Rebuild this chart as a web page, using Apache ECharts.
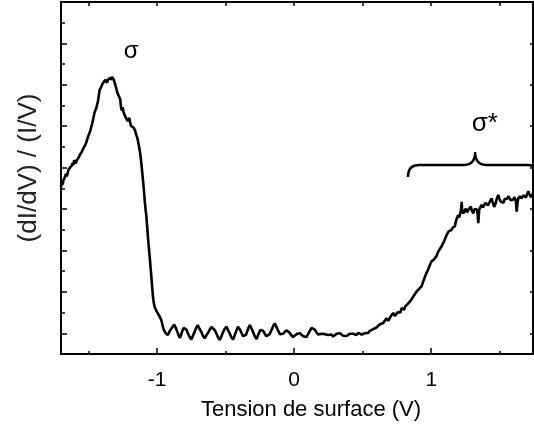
<!DOCTYPE html>
<html>
<head>
<meta charset="utf-8">
<script src="https://cdn.jsdelivr.net/npm/echarts@6/dist/echarts.min.js"></script>
<style>
html,body{margin:0;padding:0;background:#fff;}
#chart{width:534px;height:434px;}
</style>
</head>
<body>
<div id="chart"></div>
<script>
// Spectrum segments: [sample bias (V), normalised conductance (a.u.)]
const sigmaPeak = [
[-1.700,8.05],[-1.694,8.30],[-1.688,8.18],[-1.682,8.40],[-1.676,8.32],[-1.670,8.56],
[-1.664,8.70],[-1.658,8.58],[-1.652,8.72],[-1.646,8.90],[-1.640,8.84],[-1.634,9.00],
[-1.628,8.96],[-1.622,9.10],[-1.616,9.22],[-1.610,9.12],[-1.604,9.36],[-1.598,9.28],
[-1.592,9.20],[-1.586,9.34],[-1.580,9.30],[-1.574,9.46],[-1.568,9.52],[-1.562,9.62],
[-1.556,9.58],[-1.550,9.74],[-1.544,9.78],[-1.538,9.92],[-1.532,9.96],[-1.526,10.06],
[-1.520,10.14],[-1.514,10.24],[-1.508,10.40],[-1.502,10.50],[-1.496,10.58],[-1.490,10.72],
[-1.484,10.84],[-1.478,11.00],[-1.472,11.14],[-1.466,11.32],[-1.460,11.52],[-1.454,11.70],
[-1.448,11.78],[-1.442,11.88],[-1.436,12.06],[-1.430,12.22],[-1.424,12.50],[-1.418,12.76],
[-1.412,12.84],[-1.406,12.90],[-1.400,13.02],[-1.394,13.08],[-1.388,13.14],[-1.382,13.18],
[-1.376,13.24],[-1.370,13.20],[-1.364,13.10],[-1.358,13.24],[-1.352,13.30],[-1.346,13.22],
[-1.340,13.34],[-1.334,13.24],[-1.328,13.38],[-1.322,13.30],[-1.316,13.26],[-1.310,13.22],
[-1.304,13.00],[-1.298,12.86],[-1.292,12.70],[-1.286,12.56],[-1.280,12.48],[-1.274,12.40],
[-1.268,12.30],[-1.262,11.90],[-1.256,11.76],[-1.250,11.92],[-1.244,11.70],[-1.238,11.56],
[-1.232,11.50],[-1.226,11.40],[-1.220,11.36],[-1.214,11.24],[-1.208,11.30],[-1.202,11.40],
[-1.196,11.20],[-1.190,11.02],[-1.184,10.98],[-1.178,11.06],[-1.172,10.94],[-1.166,10.86],
[-1.160,10.80],[-1.154,10.66],[-1.148,10.52],[-1.142,10.40],[-1.136,10.20],[-1.130,9.98],
[-1.124,9.76],[-1.118,9.42],[-1.112,9.06],[-1.106,8.66],[-1.100,8.24],[-1.094,7.80],
[-1.088,7.30],[-1.082,6.90],[-1.077,6.62],[-1.071,6.10],[-1.066,5.65],[-1.060,5.18],
[-1.053,4.68],[-1.047,4.20],[-1.041,3.72],[-1.035,3.22],[-1.029,2.75],[-1.023,2.46],
[-1.017,2.27],[-1.011,2.18],[-1.005,2.10],[-0.999,2.02],[-0.993,1.95],[-0.986,1.86],
[-0.980,1.80],[-0.974,1.74],[-0.968,1.63],[-0.962,1.46],[-0.956,1.30],[-0.950,1.16],
[-0.944,1.08],[-0.938,1.02],[-0.931,0.98],[-0.926,0.94]
];
const gapRegion = [
[-0.920,0.92],[-0.908,1.10],[-0.896,1.22],[-0.884,1.30],[-0.874,1.42],[-0.864,1.28],
[-0.852,1.08],[-0.842,0.90],[-0.834,0.78],[-0.824,0.92],[-0.815,1.12],[-0.806,1.26],
[-0.796,1.34],[-0.786,1.18],[-0.775,1.00],[-0.762,0.82],[-0.750,0.70],[-0.738,0.88],
[-0.725,1.08],[-0.713,1.28],[-0.703,1.40],[-0.690,1.22],[-0.678,1.08],[-0.665,0.88],
[-0.652,0.76],[-0.640,0.90],[-0.628,1.02],[-0.615,1.18],[-0.603,1.30],[-0.591,1.36],
[-0.578,1.15],[-0.566,0.98],[-0.554,0.80],[-0.542,0.68],[-0.530,0.86],[-0.518,1.06],
[-0.505,1.22],[-0.493,1.32],[-0.481,1.14],[-0.469,0.98],[-0.457,0.80],[-0.445,0.70],
[-0.436,0.86],[-0.427,1.02],[-0.418,1.18],[-0.409,1.32],[-0.397,1.20],[-0.385,1.04],
[-0.372,0.86],[-0.360,0.78],[-0.350,0.94],[-0.342,1.10],[-0.332,1.28],[-0.323,1.40],
[-0.310,1.22],[-0.298,1.04],[-0.286,0.84],[-0.274,0.72],[-0.265,0.88],[-0.256,1.02],
[-0.247,1.16],[-0.238,1.24],[-0.226,1.12],[-0.214,0.98],[-0.202,0.86],[-0.190,0.78],
[-0.178,0.96],[-0.165,1.16],[-0.153,1.34],[-0.141,1.48],[-0.128,1.30],[-0.116,1.12],
[-0.104,0.96],[-0.092,0.87],[-0.080,0.98],[-0.068,1.06],[-0.056,1.14],[-0.044,1.16],
[-0.034,1.04],[-0.025,0.94],[-0.016,0.86],[-0.007,0.82],[0.006,0.90],[0.018,0.96],
[0.030,1.02],[0.042,1.00],[0.054,0.92],[0.066,0.86],[0.078,0.84],[0.091,0.82],
[0.103,0.98],[0.115,1.12],[0.127,1.26],[0.139,1.35],[0.151,1.18],[0.163,1.04],
[0.176,0.94],[0.188,0.90],[0.200,0.98],[0.212,1.04],[0.224,0.96],[0.236,1.00],
[0.248,0.92],[0.260,0.88],[0.272,0.94],[0.285,0.84],[0.297,0.92],[0.310,0.98],
[0.322,0.90],[0.334,1.00],[0.346,0.94],[0.358,0.88],[0.370,0.96],[0.382,0.87],
[0.394,0.94],[0.406,0.98],[0.418,0.92],[0.431,0.98],[0.443,0.94],[0.455,0.92],
[0.467,1.02],[0.480,1.00],[0.492,0.94],[0.504,1.02],[0.516,1.00],[0.528,1.06],
[0.540,1.02],[0.552,1.12],[0.565,1.10],[0.577,1.20],[0.589,1.16],[0.600,1.28],
[0.613,1.34],[0.626,1.44],[0.638,1.36],[0.650,1.50]
];
const sigmaStarEdge = [
[0.662,1.62],[0.674,1.72],[0.686,1.60],[0.698,1.66],[0.710,1.88],[0.723,1.98],
[0.735,1.84],[0.747,1.82],[0.756,2.02],[0.765,2.10],[0.775,2.00],[0.784,2.22],
[0.793,2.18],[0.802,2.14],[0.811,2.30],[0.820,2.30],[0.829,2.42],[0.838,2.46],
[0.848,2.56],[0.857,2.64],[0.866,2.74],[0.875,2.84],[0.884,2.92],[0.893,3.02],
[0.902,3.06],[0.911,3.14],[0.920,3.18],[0.930,3.28],[0.939,3.46],[0.948,3.62],
[0.957,3.78],[0.966,3.92],[0.976,4.06],[0.985,4.22],[0.994,4.36],[1.003,4.48],
[1.012,4.50],[1.021,4.58],[1.030,4.66],[1.039,4.74],[1.049,4.92],[1.058,5.02],
[1.067,5.10],[1.076,5.20],[1.082,5.30],[1.088,5.36],[1.094,5.44],[1.100,5.52],
[1.109,5.70],[1.118,5.82],[1.127,5.92],[1.136,6.00],[1.145,5.98],[1.155,6.08],
[1.164,6.12],[1.173,6.18],[1.179,6.40],[1.185,6.52],[1.191,6.62],[1.197,6.72],
[1.203,6.58],[1.210,6.64],[1.216,6.90],[1.222,7.35],[1.225,6.95],[1.228,6.86],
[1.234,6.78],[1.243,6.92],[1.252,7.02],[1.261,6.84],[1.270,6.96],[1.279,7.02],
[1.288,7.12],[1.297,6.90],[1.307,6.80],[1.316,7.00],[1.325,7.08],[1.334,6.98],
[1.340,6.60],[1.343,6.32],[1.347,6.70],[1.350,6.98],[1.359,7.10],[1.368,7.20],
[1.377,7.08],[1.386,7.14],[1.395,7.30],[1.404,7.36],[1.413,7.18],[1.422,7.24],
[1.431,7.40],[1.441,7.52],[1.447,7.36],[1.453,7.28],[1.459,7.10],[1.465,7.04],
[1.471,7.30],[1.477,7.48],[1.483,7.56],[1.489,7.68],[1.498,7.48],[1.507,7.36],
[1.516,7.44],[1.526,7.30],[1.535,7.48],[1.544,7.56],[1.553,7.50],[1.562,7.62],
[1.571,7.52],[1.580,7.42],[1.590,7.50],[1.599,7.46],[1.605,7.58],[1.611,7.66],
[1.617,7.40],[1.623,6.88],[1.629,7.30],[1.635,7.52],[1.641,7.58],[1.647,7.62],
[1.656,7.52],[1.665,7.58],[1.674,7.66],[1.684,7.70],[1.690,7.56],[1.696,7.62],
[1.702,7.76],[1.708,7.86],[1.714,7.74],[1.720,7.66],[1.726,7.58],[1.733,7.54],
[1.738,7.70],[1.742,7.78]
];
// Tick values
const xMajorTicks = [-1, 0, 1];
const xMinorTicks = [-1.5, -0.5, 0.5, 1.5];
const xTopTicks = [-1.5, -1, -0.5, 0, 0.5, 1, 1.5];
const yMajorTicks = [1, 3, 5, 7, 9, 11, 13, 15];
const yMinorTicks = [2, 4, 6, 8, 10, 12, 14, 16];
// Annotations
const peakLabels = ['σ', 'σ*'];
const peakLabelV = [-1.188, 1.39];
const peakLabelY = [14.6, 11.1];
const braceV = [0.83, 1.32, 1.78];    // start, cusp, end
const braceLevel = [8.55, 9.13, 9.75]; // tips, bar, cusp

const X_MIN = -1.7, X_MAX = 1.742, Y_MIN = 0, Y_MAX = 17;
const FONT = "'Liberation Sans', Arial, sans-serif";

const chart = echarts.init(document.getElementById('chart'), null, {renderer: 'canvas'});

function xAx(extra) {
  return Object.assign({
    type: 'value', min: X_MIN, max: X_MAX,
    splitLine: {show: false},
    axisLine: {show: false, onZero: false},
    axisLabel: {show: false},
    axisTick: {show: false}
  }, extra);
}
function yAx(extra) {
  return Object.assign({
    type: 'value', min: Y_MIN, max: Y_MAX,
    splitLine: {show: false},
    axisLine: {show: false, onZero: false},
    axisLabel: {show: false},
    axisTick: {show: false}
  }, extra);
}
const lineSt = {color: '#000', width: 2};
const tickSt = {color: '#000', width: 1.5};

const option = {
  animation: false,
  backgroundColor: '#fff',
  grid: {left: 61, right: 1, top: 2, bottom: 80, containLabel: false, outerBoundsMode: 'none'},
  xAxis: [
    xAx({
      position: 'bottom',
      axisLine: {show: true, onZero: false, lineStyle: lineSt},
      axisTick: {show: true, inside: true, length: 6, customValues: xMajorTicks, lineStyle: tickSt},
      axisLabel: {show: true, customValues: xMajorTicks, fontSize: 21, margin: 16, color: '#000', fontFamily: FONT},
      name: 'Tension de surface (V)',
      nameLocation: 'middle',
      nameGap: 45,
      nameTextStyle: {fontSize: 22, color: '#000', fontFamily: FONT, padding: [0, 0, 0, 28]}
    }),
    xAx({
      position: 'bottom',
      axisTick: {show: true, inside: true, length: 3, customValues: xMinorTicks, lineStyle: tickSt}
    }),
    xAx({
      position: 'top',
      axisLine: {show: true, onZero: false, lineStyle: lineSt},
      axisTick: {show: true, inside: true, length: 4, customValues: xTopTicks, lineStyle: tickSt}
    })
  ],
  yAxis: [
    yAx({
      position: 'left',
      axisLine: {show: true, onZero: false, lineStyle: lineSt},
      axisTick: {show: true, inside: true, length: 6, customValues: yMajorTicks, lineStyle: tickSt},
      name: '(dI/dV) / (I/V)',
      nameLocation: 'middle',
      nameGap: 19,
      nameTextStyle: {fontSize: 26, color: '#222', fontFamily: FONT, padding: [0, 0, 0, 20]}
    }),
    yAx({
      position: 'left',
      axisTick: {show: true, inside: true, length: 4, customValues: yMinorTicks, lineStyle: tickSt}
    }),
    yAx({
      position: 'right',
      axisLine: {show: true, onZero: false, lineStyle: lineSt},
      axisTick: {show: true, inside: true, length: 3, customValues: yMajorTicks, lineStyle: tickSt}
    })
  ],
  series: [
    {
      type: 'line',
      xAxisIndex: 0, yAxisIndex: 0,
      data: sigmaPeak.concat(gapRegion, sigmaStarEdge),
      showSymbol: false,
      symbol: 'none',
      lineStyle: {color: '#000', width: 2.6},
      clip: true,
      z: 3
    },
    {
      type: 'custom',
      xAxisIndex: 0, yAxisIndex: 0,
      clip: true,
      data: [[0, 0]],
      renderItem: function (params, api) {
        const tipL = api.coord([braceV[0], braceLevel[0]]);
        const barL = api.coord([braceV[0], braceLevel[1]]);
        const cusp = api.coord([braceV[1], braceLevel[2]]);
        const barM = api.coord([braceV[1], braceLevel[1]]);
        const barR = api.coord([braceV[2], braceLevel[1]]);
        const tipR = api.coord([braceV[2], braceLevel[0]]);
        const w = 11;
        const d = [
          'M', tipL[0], tipL[1],
          'Q', barL[0], barL[1], barL[0] + w, barL[1],
          'L', barM[0] - w, barM[1],
          'Q', barM[0], barM[1], cusp[0], cusp[1],
          'Q', barM[0], barM[1], barM[0] + w, barM[1],
          'L', barR[0] - w, barR[1],
          'Q', barR[0], barR[1], tipR[0], tipR[1]
        ].join(' ');
        const children = [{
          type: 'path',
          shape: {pathData: d},
          style: {fill: 'none', stroke: '#000', lineWidth: 2.4}
        }];
        for (let i = 0; i < peakLabels.length; i++) {
          const p = api.coord([peakLabelV[i], peakLabelY[i]]);
          children.push({
            type: 'text',
            x: p[0], y: p[1],
            style: {
              text: peakLabels[i],
              fontSize: i === 0 ? 24 : 26,
              fontFamily: FONT,
              fill: '#000',
              align: 'center',
              verticalAlign: 'middle'
            }
          });
        }
        return {type: 'group', children: children};
      },
      z: 4
    }
  ]
};
chart.setOption(option);
</script>
</body>
</html>
